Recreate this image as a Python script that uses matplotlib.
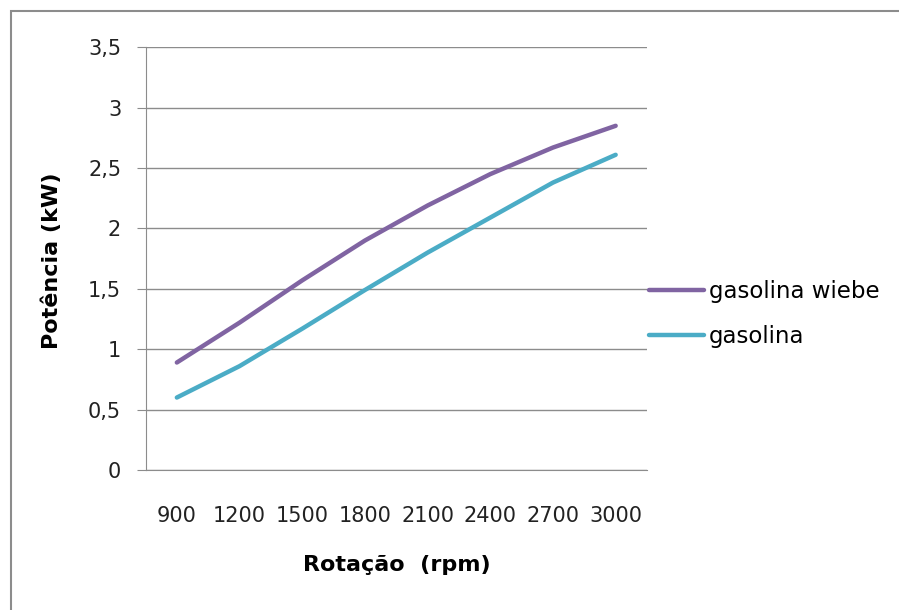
import matplotlib
matplotlib.use('Agg')
import matplotlib.pyplot as plt
from matplotlib.patches import Rectangle

# Potência vs rotação
rpm = ['900', '1200', '1500', '1800', '2100', '2400', '2700', '3000']
wiebe = [0.89, 1.22, 1.57, 1.90, 2.19, 2.45, 2.67, 2.85]
gasolina = [0.60, 0.86, 1.17, 1.49, 1.80, 2.09, 2.38, 2.61]
yticks = [0, 0.5, 1, 1.5, 2, 2.5, 3, 3.5]
ytick_labels = ['0', '0,5', '1', '1,5', '2', '2,5', '3', '3,5']

plt.rcParams['font.family'] = 'DejaVu Sans'

fig = plt.figure(figsize=(8.99, 6.10), dpi=100)
ax = fig.add_axes([145.5 / 899, 1 - 470 / 610, (647 - 145.5) / 899, (470 - 47.3) / 610])

# chart border
fig.patches.append(Rectangle((11 / 899, -0.1), 1.2, 1 - 11 / 610 + 0.1,
                             transform=fig.transFigure, fill=False,
                             edgecolor='#8c8c8c', linewidth=1.5))

x = range(len(rpm))
ax.plot(x, wiebe, color='#8064A2', linewidth=3.2, solid_capstyle='round', label='gasolina wiebe')
ax.plot(x, gasolina, color='#4BACC6', linewidth=3.2, solid_capstyle='round', label='gasolina')

ax.set_xlim(-0.5, len(rpm) - 0.5)
ax.set_ylim(0, 3.5)
ax.set_yticks(yticks)
ax.set_yticklabels(ytick_labels)
ax.set_xticks(list(x))
ax.set_xticklabels(rpm)

ax.grid(axis='y', color='#8c8c8c', linewidth=1)
ax.set_axisbelow(True)
for side in ['top', 'right']:
    ax.spines[side].set_visible(False)
ax.spines['left'].set_color('#8c8c8c')
ax.spines['bottom'].set_color('#8c8c8c')

ax.tick_params(axis='y', length=6.5, color='#8c8c8c', pad=11, labelsize=15, labelcolor='#222222')
ax.tick_params(axis='x', length=0, pad=26, labelsize=15, labelcolor='#222222')

fig.text(397 / 899, 1 - 565 / 610, 'Rotação  (rpm)', fontsize=16, fontweight='bold',
         ha='center', va='center')
fig.text(52 / 899, 1 - 261 / 610, 'Potência (kW)', fontsize=16, fontweight='bold',
         ha='center', va='center', rotation=90)

ax.legend(loc='center left', bbox_to_anchor=(1.003, 0.369), frameon=False,
          fontsize=16.5, handlelength=2.4, handletextpad=0.25, labelspacing=1.0,
          borderaxespad=0, borderpad=0)

fig.savefig('out.png', dpi=100)
